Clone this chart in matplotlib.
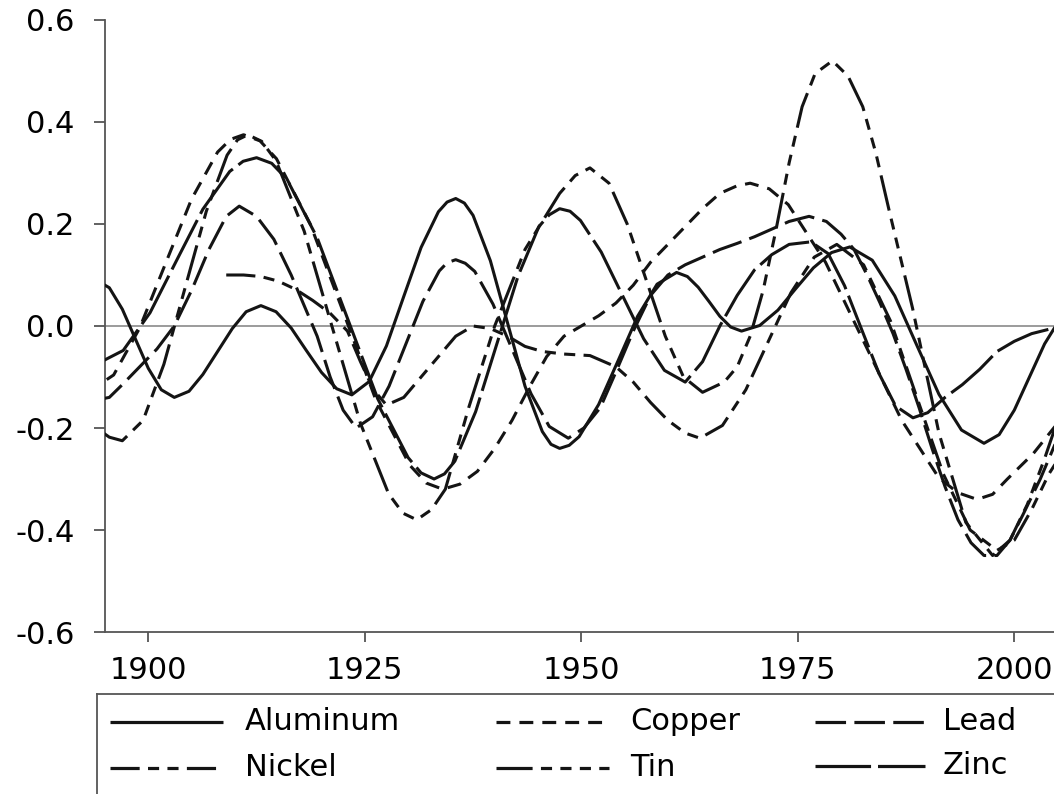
import matplotlib
matplotlib.use("Agg")
import matplotlib.pyplot as plt

plt.rcParams['font.family'] = ['DejaVu Sans']
plt.rcParams['lines.scale_dashes'] = False

# ---------------- data (year, value) ----------------
aluminum = [(1894,0.09),(1895.5,0.075),(1897,0.033),(1898.5,-0.025),(1900,-0.083),(1901.5,-0.125),
            (1903,-0.14),(1904.7,-0.128),(1906.3,-0.095),(1908,-0.05),(1909.7,-0.005),(1911.3,0.028),
            (1913,0.04),(1914.75,0.028),(1916.5,-0.004),(1918.25,-0.048),(1920,-0.091),(1921.75,-0.123),
            (1923.5,-0.135),(1925.5,-0.109),(1927.5,-0.039),(1929.5,0.058),(1931.5,0.154),(1933.5,0.224),
            (1934.5,0.243),(1935.5,0.25),(1936.5,0.241),(1937.5,0.217),(1939.5,0.128),(1941.5,0.005),
            (1943.5,-0.118),(1945.5,-0.207),(1946.5,-0.232),(1947.5,-0.24),(1948.6,-0.234),(1949.75,-0.217),
            (1952,-0.154),(1954.25,-0.068),(1956.5,0.019),(1958.75,0.082),(1961,0.105),(1962.25,0.097),
            (1963.5,0.076),(1964.75,0.048),(1966,0.019),(1967.25,-0.002),(1968.5,-0.01),(1970.6,0.001),
            (1972.7,0.031),(1974.75,0.073),(1976.8,0.114),(1978.9,0.144),(1981,0.155),(1983.6,0.129),
            (1986.2,0.059),(1988.75,-0.038),(1991.3,-0.134),(1993.9,-0.204),(1996.5,-0.23),(1998.25,-0.213),
            (2000,-0.165),(2001.75,-0.1),(2003.5,-0.035),(2005.25,0.013)]

copper = [(1893,-0.13),(1896,-0.096),(1899,-0.004),(1902,0.123),(1905,0.249),(1908,0.341),(1909.5,0.366),
          (1911,0.375),(1912.9,0.363),(1914.8,0.328),(1918.7,0.2),(1922.5,0.028),(1926.3,-0.146),
          (1930.2,-0.273),(1932.1,-0.308),(1934,-0.32),(1936,-0.31),(1938,-0.285),(1940,-0.24),
          (1942,-0.185),(1944,-0.12),(1946,-0.06),(1948,-0.02),(1950,0.0),(1952,0.02),(1954,0.045),
          (1956,0.08),(1958,0.125),(1960,0.16),(1962,0.195),(1964,0.23),(1966,0.26),(1968,0.275),
          (1969.5,0.28),(1971.7,0.269),(1973.9,0.238),(1978.2,0.125),(1982.6,-0.03),(1987,-0.185),
          (1991.3,-0.298),(1993.5,-0.327),(1995.7,-0.34),(1997.5,-0.33),(1999.2,-0.30),(2002.2,-0.25),
          (2005.5,-0.18)]

lead = [(1894,-0.145),(1895.5,-0.14),(1897,-0.115),(1899,-0.08),(1901,-0.045),(1903,0.0),(1905,0.07),
        (1907,0.15),(1909,0.215),(1910.5,0.235),(1912.5,0.215),(1914.5,0.17),(1916.5,0.10),(1918,0.04),
        (1919.5,-0.02),(1921,-0.10),(1922.5,-0.165),(1924,-0.20),(1925.9,-0.178),(1927.8,-0.118),
        (1929.75,-0.035),(1931.7,0.048),(1933.6,0.108),(1934.5,0.124),(1935.5,0.13),(1936.6,0.123),
        (1937.7,0.107),(1939.8,0.043),(1942,-0.045),(1944.2,-0.133),(1946.3,-0.197),(1948.5,-0.22),
        (1950.3,-0.20),(1952.2,-0.16),(1954,-0.09),(1956,-0.01),(1958,0.06),(1960,0.10),(1962,0.12),
        (1964,0.135),(1966,0.15),(1968,0.162),(1970,0.175),(1972,0.19),(1974,0.205),(1976.3,0.215),
        (1978.3,0.205),(1980,0.18),(1981.5,0.15),(1983,0.10),(1984.5,0.045),(1986,-0.015),(1987.5,-0.085),
        (1989,-0.16),(1990.5,-0.24),(1992,-0.315),(1993.5,-0.38),(1995,-0.425),(1996.5,-0.45),
        (1998,-0.45),(1999.5,-0.42),(2001,-0.37),(2003,-0.30),(2005.5,-0.20)]

nickel = [(1909,0.10),(1911,0.10),(1913,0.097),(1915,0.088),(1917,0.072),(1919,0.05),(1921,0.025),
          (1923,-0.01),(1924.5,-0.07),(1926,-0.125),(1927.5,-0.155),(1929.5,-0.14),(1931.5,-0.10),
          (1933.5,-0.06),(1935.5,-0.02),(1937.5,0.0),(1939.5,-0.005),(1941.5,-0.02),(1943.5,-0.04),
          (1945.5,-0.05),(1948,-0.055),(1951,-0.058),(1954,-0.08),(1956,-0.11),(1958,-0.15),(1960,-0.185),
          (1962,-0.21),(1963.7,-0.22),(1966.3,-0.195),(1969,-0.125),(1971.6,-0.03),(1974.2,0.065),
          (1976.9,0.135),(1979.5,0.16),(1982.6,0.12),(1985.7,0.01),(1988.75,-0.14),(1991.8,-0.29),
          (1994.9,-0.40),(1998,-0.44),(2000,-0.42),(2002,-0.36),(2004,-0.29),(2005.5,-0.25)]

tin = [(1894,-0.20),(1895.5,-0.218),(1897,-0.225),(1899.4,-0.185),(1901.8,-0.075),(1904.25,0.075),
       (1906.7,0.225),(1909.1,0.335),(1910.3,0.365),(1911.5,0.375),(1913.1,0.362),(1914.75,0.324),
       (1918,0.186),(1921.25,-0.003),(1924.5,-0.191),(1927.75,-0.329),(1929.4,-0.367),(1931,-0.38),
       (1932.7,-0.36),(1934.3,-0.32),(1937,-0.16),(1940,0.0),(1943.5,0.15),(1947.5,0.26),(1949.3,0.295),
       (1951,0.31),(1953.2,0.28),(1955.3,0.2),(1957.5,0.09),(1959.7,-0.02),(1961.8,-0.1),(1964,-0.13),
       (1966.5,-0.11),(1968,-0.08),(1969.5,-0.02),(1971,0.07),(1972.5,0.19),(1974,0.32),(1975.5,0.43),
       (1977,0.495),(1979,0.52),(1980.8,0.49),(1982.5,0.43),(1984,0.34),(1985.5,0.23),(1988.25,0.035),
       (1991.3,-0.21),(1994.4,-0.385),(1997.5,-0.45),(1999.5,-0.42),(2001.5,-0.35),(2003.5,-0.26),
       (2005.5,-0.16)]

zinc = [(1894,-0.075),(1897.1,-0.048),(1900.2,0.026),(1903.25,0.128),(1906.3,0.229),(1909.4,0.303),
        (1910.95,0.323),(1912.5,0.33),(1914.25,0.319),(1916,0.288),(1919.5,0.173),(1923,0.015),
        (1926.5,-0.143),(1930,-0.258),(1931.5,-0.288),(1933,-0.30),(1934.2,-0.29),(1935.4,-0.265),
        (1937.8,-0.168),(1940.25,-0.035),(1942.7,0.098),(1945.1,0.195),(1946.3,0.218),(1947.5,0.23),
        (1948.7,0.225),(1949.9,0.207),(1952.3,0.145),(1954.75,0.06),(1957.2,-0.025),(1959.6,-0.087),
        (1962,-0.11),(1964,-0.07),(1966,0.0),(1968,0.06),(1970,0.11),(1972,0.14),(1974,0.16),
        (1976.5,0.165),(1978.5,0.142),(1980.4,0.079),(1982.4,-0.008),(1984.4,-0.094),(1986.3,-0.157),
        (1988.3,-0.18),(1990,-0.17),(1992,-0.14),(1994,-0.115),(1996,-0.085),(1998,-0.05),(2000,-0.03),
        (2002,-0.015),(2005.5,0.0)]

series_names = ["Aluminum", "Copper", "Lead", "Nickel", "Tin", "Zinc"]
series_data = [aluminum, copper, lead, nickel, tin, zinc]
x_ticks = [1900, 1925, 1950, 1975, 2000]
y_ticks = [0.6, 0.4, 0.2, 0.0, -0.2, -0.4, -0.6]
y_tick_labels = ["0.6", "0.4", "0.2", "0.0", "-0.2", "-0.4", "-0.6"]

# ---------------- styles ----------------
INK = "#141414"
LW = 2.2
styles = {
    "Aluminum": dict(linestyle="-"),
    "Copper": dict(linestyle=(0, (10.0, 6.5))),
    "Lead": dict(linestyle=(0, (22.0, 6.0))),
    "Nickel": dict(linestyle=(0, (21.0, 6.0, 8.0, 6.0, 8.0, 6.0))),
    "Tin": dict(linestyle=(0, (26.0, 6.0, 8.0, 6.0, 8.0, 6.0, 8.0, 6.0))),
    "Zinc": dict(linestyle=(0, (40.0, 5.0))),
}

W, H = 1054, 794
fig = plt.figure(figsize=(W / 100, H / 100), dpi=100)
ax = fig.add_axes([105 / W, (H - 632) / H, (1057.6 - 105) / W, (632 - 20) / H])
ax.set_xlim(1895, 2005)
ax.set_ylim(-0.6, 0.6)

ax.axhline(0, color="#808080", lw=1.1, zorder=1)

for name, data in zip(series_names, series_data):
    xs = [p[0] for p in data]
    ys = [p[1] for p in data]
    ax.plot(xs, ys, color=INK, lw=LW, zorder=3, solid_capstyle="butt",
            dash_capstyle="butt", solid_joinstyle="round", **styles[name])

for side in ["top", "right"]:
    ax.spines[side].set_visible(False)
for side in ["left", "bottom"]:
    ax.spines[side].set_color("#555555")
    ax.spines[side].set_linewidth(1.3)

ax.set_xticks(x_ticks)
ax.set_xticklabels([str(t) for t in x_ticks])
ax.set_yticks(y_ticks)
ax.set_yticklabels(y_tick_labels)
ax.tick_params(axis="y", direction="out", length=8, width=1.3, color="#555555",
               labelsize=22, pad=14, labelcolor="black")
ax.tick_params(axis="x", direction="out", length=7, width=1.3, color="#555555",
               labelsize=22, pad=10, labelcolor="black")

# ---------------- legend box ----------------
lax = fig.add_axes([97 / W, 0, 1 - 97 / W, (H - 694) / H])
lax.set_xlim(97, W)
lax.set_ylim(H, 694)
lax.set_xticks([])
lax.set_yticks([])
for side in ["bottom", "right"]:
    lax.spines[side].set_visible(False)
for side in ["top", "left"]:
    lax.spines[side].set_color("#555555")
    lax.spines[side].set_linewidth(1.3)

legend_layout = {
    "Aluminum": (110, 223, 245, 722),
    "Nickel": (110, 223, 245, 768),
    "Copper": (496, 609, 630, 722),
    "Tin": (496, 609, 630, 768),
    "Lead": (815, 925, 943, 722),
    "Zinc": (815, 925, 943, 766),
}
for name in series_names:
    x0, x1, tx, y = legend_layout[name]
    lax.plot([x0, x1], [y, y], color=INK, lw=2.3, solid_capstyle="butt",
             dash_capstyle="butt", **styles[name])
    lax.text(tx, y, name, fontsize=22, va="center", ha="left", color="black")

fig.savefig("out.png", dpi=100)
